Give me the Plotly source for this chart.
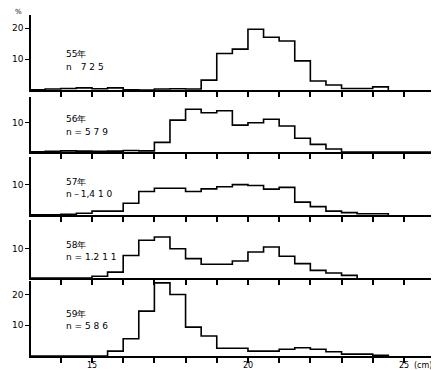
import plotly.graph_objects as go

# ---- data (percent per 0.5 cm size class, classes start at 13.0 cm) ----
bin_start = 13.0
bin_width = 0.5

years = ["55年", "56年", "57年", "58年", "59年"]
n_labels = ["n　7 2 5", "n = 5 7 9", "n－1,4 1 0", "n = 1.2 1 1", "n = 5 8 6"]

pct_55 = [0.1, 0.3, 0.5, 0.7, 0.4, 0.7, 0.1, 0.0, 0.3, 0.4, 0.3,
          3.2, 11.8, 13.2, 19.6, 17.0, 15.8, 9.4, 2.9, 1.6, 0.5, 0.5, 1.0]
pct_56 = [0.1, 0.2, 0.4, 0.3, 0.2, 0.3, 0.5, 0.4,
          3.3, 10.9, 14.6, 13.4, 14.1, 9.2, 10.0, 11.2, 8.9, 4.7, 2.6, 1.0,
          0.0, 0.0, 0.0, 0.0, 0.0, 0.0, 0.0, 0.0, 0.0, 0.2]
pct_57 = [0.1, 0.1, 0.2, 0.6, 1.3, 1.3, 3.9, 7.8, 8.9, 8.9, 7.8, 8.7,
          9.4, 10.1, 9.8, 8.6, 9.2, 4.3, 2.8, 1.3, 0.8, 0.4, 0.4]
pct_58 = [0.0, 0.0, 0.0, 0.0, 0.6, 2.0, 7.7, 12.9, 14.0, 10.0, 6.6, 4.7,
          4.7, 5.8, 8.9, 10.6, 7.4, 4.9, 2.6, 1.7, 0.9]
pct_59 = [0.0, 0.0, 0.0, 0.0, 0.0, 1.6, 5.6, 14.6, 23.8, 20.0, 9.4, 6.5,
          2.5, 2.5, 1.6, 1.6, 2.2, 2.7, 2.2, 1.4, 0.6, 0.6, 0.2]

series = [pct_55, pct_56, pct_57, pct_58, pct_59]
y_ticks = [[10, 20], [10], [10], [10], [10, 20]]
x_ticks = list(range(14, 27))
x_label_vals = [15, 20, 25]
x_label_text = ["15", "20", "25"]
x_unit = "(cm)"

# ---- layout geometry: page pixels, minus the page's 8 px body margin ----
PAGE_OFF = 8
W, H = 439 - PAGE_OFF, 370 - PAGE_OFF
panels_px = [(15, 90, 24.2), (97, 152, 18.8), (157, 215, 19.3),
             (220, 278, 19.8), (281, 356, 24.4)]
x_left_px, x_right_px = 31, 437
x_range = [13.045, 26.06]


def fx(px):
    return (px - PAGE_OFF) / W


def fy(py):
    return 1 - (py - PAGE_OFF) / H


fig = go.Figure()
font = dict(family="DejaVu Sans, Liberation Sans", size=9, color="black")
small_font = dict(family="DejaVu Sans, Liberation Sans", size=8, color="black")

for i, vals in enumerate(series):
    k = i + 1
    xs = [bin_start + j * bin_width for j in range(len(vals) + 1)]
    ys = list(vals) + [0.0]
    fig.add_trace(go.Scatter(
        x=xs, y=ys, mode="lines", line=dict(shape="hv", color="black", width=1.6),
        xaxis="x" if k == 1 else f"x{k}", yaxis="y" if k == 1 else f"y{k}",
        showlegend=False, hoverinfo="skip"))

    top, bot, ymax = panels_px[i]
    xname = "xaxis" if k == 1 else f"xaxis{k}"
    yname = "yaxis" if k == 1 else f"yaxis{k}"
    fig.update_layout(**{
        xname: dict(domain=[fx(x_left_px), min(1.0, fx(x_right_px))], range=x_range,
                    anchor="y" if k == 1 else f"y{k}",
                    showline=True, linecolor="black", linewidth=1.5,
                    ticks="outside", ticklen=5, tickwidth=1.5, tickcolor="black",
                    tickmode="array", tickvals=x_ticks, showticklabels=False,
                    showgrid=False, zeroline=False,
                    fixedrange=True, automargin=False),
        yname: dict(domain=[max(0.0, fy(bot)), min(1.0, fy(top))], range=[0, ymax],
                    anchor="x" if k == 1 else f"x{k}",
                    showline=True, linecolor="black", linewidth=1.5,
                    ticks="outside", ticklen=4, tickwidth=1.2, tickcolor="black",
                    tickvals=y_ticks[i], showgrid=False, zeroline=False,
                    tickfont=font, fixedrange=True, automargin=False),
    })

# panel texts
label_y_px = [(54, 67), (119, 132), (182, 194), (245, 257), (314, 326)]
annotations = []
for i in range(len(series)):
    y1, y2 = label_y_px[i]
    annotations.append(dict(x=fx(64), y=fy(y1), xref="paper", yref="paper",
                            text=years[i], showarrow=False, xanchor="left",
                            yanchor="middle", font=font))
    annotations.append(dict(x=fx(64), y=fy(y2), xref="paper", yref="paper",
                            text=n_labels[i], showarrow=False, xanchor="left",
                            yanchor="middle", font=font))
# bottom-axis labels (kept inside the page)
for v, t in zip(x_label_vals, x_label_text):
    annotations.append(dict(x=v, y=fy(365), xref="x5", yref="paper",
                            text=t, showarrow=False, xanchor="center",
                            yanchor="middle", font=small_font))
annotations.append(dict(x=fx(412), y=fy(365), xref="paper", yref="paper",
                        text=x_unit, showarrow=False, xanchor="left", yanchor="middle",
                        font=small_font))
annotations.append(dict(x=fx(13), y=fy(12), xref="paper", yref="paper",
                        text="%", showarrow=False, xanchor="left", yanchor="middle",
                        font=dict(family="DejaVu Sans", size=7, color="black")))

fig.update_layout(width=W, height=H, margin=dict(l=0, r=0, t=0, b=0),
                  paper_bgcolor="white", plot_bgcolor="white",
                  annotations=annotations, showlegend=False)

fig.write_html("out.html", config={"displayModeBar": False})
